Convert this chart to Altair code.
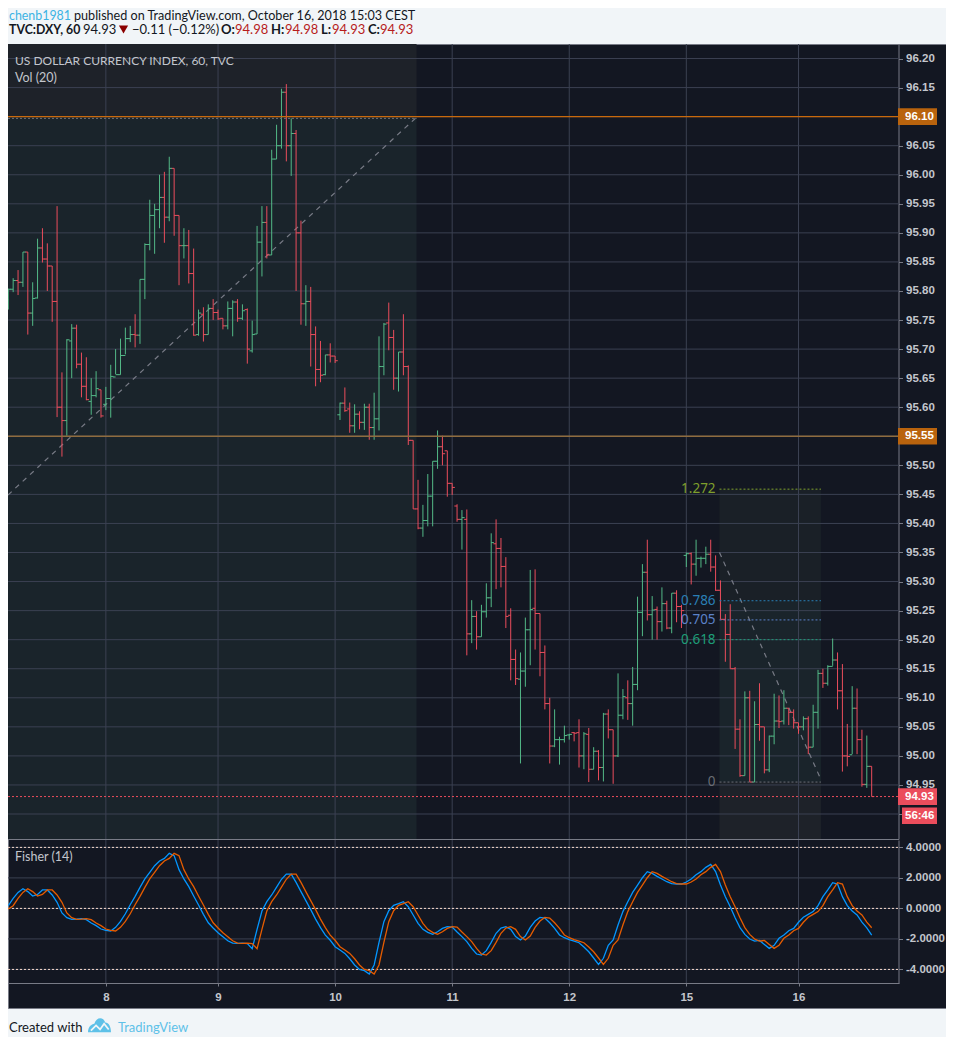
import altair as alt
import pandas as pd

open_ = [95.785,95.803,95.818,95.815,95.867,95.762,95.788,95.874,95.855,95.843,
95.782,95.60,95.577,95.714,95.736,95.674,95.636,95.61,95.62,95.63,
95.605,95.615,95.652,95.656,95.689,95.718,95.725,95.724,95.82,95.88,
95.93,95.94,95.961,95.927,96.011,95.93,95.878,95.878,95.83,95.725,
95.76,95.725,95.77,95.763,95.753,95.74,95.77,95.781,95.753,95.768,
95.697,95.726,95.884,95.918,95.862,96.027,96.05,96.142,96.05,96.071,
95.90,95.778,95.782,95.725,95.665,95.656,95.69,95.688,95.587,95.607,
95.597,95.568,95.588,95.574,95.60,95.565,95.58,95.67,95.745,95.72,
95.65,95.695,95.67,95.543,95.425,95.392,95.405,95.447,95.507,95.532,
95.525,95.469,95.43,95.407,95.407,95.21,95.24,95.205,95.248,95.272,
95.365,95.357,95.326,95.242,95.166,95.132,95.146,95.217,95.254,95.245,
95.178,95.09,95.017,95.028,95.028,95.036,95.04,95.04,95.0,95.037,
94.977,95.008,94.98,95.072,95.045,95.0,95.07,95.10,95.09,95.123,
95.247,95.316,95.243,95.252,95.231,95.262,95.22,95.28,95.257,95.345,
95.348,95.33,95.34,95.34,95.347,95.325,95.285,95.235,95.209,95.15,
95.046,94.966,95.10,94.955,95.054,95.05,94.976,95.034,95.06,95.06,
95.082,95.075,95.057,95.05,95.064,95.015,95.075,95.142,95.125,95.154,
95.165,95.112,95.0,95.002,95.082,95.028,94.951,94.982]
high = [95.804,95.822,95.836,95.867,95.867,95.815,95.89,95.908,95.882,95.843,
95.946,95.66,95.717,95.743,95.742,95.694,95.686,95.65,95.662,95.63,
95.635,95.673,95.70,95.718,95.737,95.74,95.76,95.82,95.882,95.957,
95.95,96.0,96.005,96.031,96.011,95.93,95.908,95.905,95.873,95.768,
95.772,95.777,95.786,95.768,95.753,95.782,95.784,95.786,95.777,95.77,
95.749,95.912,95.946,95.946,96.043,96.086,96.148,96.156,96.097,96.077,
95.921,95.81,95.807,95.739,95.714,95.69,95.71,95.688,95.608,95.634,
95.608,95.605,95.593,95.606,95.606,95.625,95.722,95.745,95.78,95.733,
95.695,95.76,95.672,95.543,95.475,95.432,95.485,95.507,95.56,95.551,
95.525,95.469,95.433,95.423,95.424,95.268,95.249,95.26,95.297,95.383,
95.407,95.375,95.342,95.254,95.183,95.178,95.238,95.32,95.321,95.245,
95.19,95.10,95.08,95.033,95.052,95.038,95.041,95.063,95.041,95.048,
95.015,95.01,95.074,95.08,95.045,95.142,95.115,95.13,95.153,95.274,
95.33,95.372,95.275,95.257,95.29,95.267,95.28,95.285,95.26,95.35,
95.35,95.372,95.343,95.36,95.372,95.345,95.302,95.244,95.261,95.153,
95.063,95.111,95.112,95.094,95.125,95.05,95.035,95.107,95.104,95.113,
95.082,95.08,95.057,95.068,95.068,95.088,95.148,95.15,95.156,95.202,
95.178,95.158,95.055,95.12,95.116,95.045,95.035,94.982]
low = [95.768,95.798,95.793,95.807,95.725,95.74,95.787,95.849,95.80,95.747,
95.583,95.515,95.551,95.65,95.667,95.617,95.612,95.587,95.617,95.582,
95.595,95.582,95.657,95.656,95.691,95.712,95.703,95.709,95.786,95.87,
95.864,95.908,95.883,95.92,95.895,95.81,95.856,95.813,95.723,95.723,
95.713,95.725,95.75,95.75,95.734,95.734,95.722,95.747,95.75,95.675,
95.694,95.726,95.825,95.856,95.862,96.027,96.045,96.023,95.998,95.80,
95.742,95.74,95.67,95.636,95.643,95.655,95.677,95.676,95.578,95.592,
95.556,95.556,95.562,95.561,95.544,95.544,95.56,95.655,95.698,95.63,
95.627,95.655,95.535,95.425,95.39,95.377,95.395,95.395,95.494,95.50,
95.446,95.449,95.403,95.355,95.173,95.194,95.183,95.205,95.238,95.256,
95.287,95.29,95.22,95.13,95.122,94.987,95.119,95.156,95.183,95.137,
95.08,94.987,95.015,94.985,95.023,95.028,95.025,94.98,94.977,94.955,
94.977,94.958,94.956,95.03,94.952,94.998,95.063,95.062,95.052,95.113,
95.206,95.233,95.20,95.20,95.214,95.218,95.211,95.23,95.22,95.325,
95.295,95.31,95.324,95.33,95.317,95.284,95.235,95.162,95.15,95.012,
94.964,94.966,94.955,94.955,95.026,94.97,94.972,95.02,95.048,95.054,
95.053,95.047,95.038,95.044,95.003,95.015,95.047,95.117,95.121,95.155,
95.08,94.973,94.982,95.003,95.003,94.947,94.945,94.93]
close = [95.803,95.818,95.815,95.867,95.762,95.787,95.874,95.855,95.843,95.782,
95.60,95.577,95.716,95.736,95.674,95.636,95.613,95.62,95.632,95.585,
95.615,95.653,95.656,95.689,95.718,95.725,95.724,95.82,95.88,95.93,
95.94,95.961,95.927,96.011,95.93,95.878,95.878,95.83,95.724,95.762,
95.725,95.77,95.763,95.752,95.74,95.77,95.781,95.753,95.766,95.70,
95.725,95.884,95.918,95.862,96.027,96.05,96.142,96.05,96.071,95.90,
95.778,95.782,95.725,95.665,95.655,95.69,95.688,95.68,95.607,95.594,
95.568,95.588,95.574,95.60,95.565,95.58,95.67,95.743,95.72,95.65,
95.695,95.67,95.543,95.425,95.392,95.405,95.447,95.507,95.532,95.52,
95.469,95.462,95.407,95.41,95.21,95.24,95.205,95.248,95.272,95.367,
95.357,95.326,95.24,95.166,95.133,95.146,95.217,95.252,95.245,95.178,
95.09,95.017,95.028,95.028,95.035,95.037,95.039,95.0,95.038,94.977,
95.008,94.98,95.072,95.045,95.0,95.07,95.102,95.09,95.123,95.247,
95.316,95.243,95.251,95.231,95.262,95.22,95.28,95.257,95.25,95.348,
95.33,95.34,95.34,95.347,95.325,95.285,95.235,95.209,95.15,95.046,
94.966,95.10,94.955,95.054,95.05,94.976,95.034,95.06,95.059,95.082,
95.075,95.057,95.05,95.064,95.015,95.075,95.142,95.125,95.154,95.165,
95.112,95.0,94.999,95.082,95.028,94.951,94.982,94.93]

fisher = [0.18,0.66,1.05,1.29,1.10,0.81,0.92,1.21,1.21,0.88,
0.40,-0.30,-0.61,-0.72,-0.70,-0.67,-0.74,-0.96,-1.13,-1.35,
-1.44,-1.48,-1.24,-0.85,-0.35,0.24,0.79,1.38,1.93,2.37,
2.80,3.11,3.28,3.61,3.46,2.54,1.93,1.43,0.81,0.22,
-0.39,-0.94,-1.28,-1.59,-1.85,-2.12,-2.27,-2.29,-2.27,-2.31,
-2.64,-1.37,-0.17,0.44,0.88,1.40,1.91,2.25,2.25,1.71,
1.10,0.51,-0.08,-0.70,-1.26,-1.75,-2.09,-2.51,-2.73,-2.95,
-3.30,-3.71,-4.00,-4.08,-4.30,-3.71,-2.23,-0.87,-0.15,0.20,
0.31,0.44,0.11,-0.43,-0.98,-1.37,-1.57,-1.70,-1.53,-1.31,
-1.20,-1.22,-1.55,-1.85,-2.18,-2.62,-2.99,-3.06,-2.77,-2.23,
-1.63,-1.29,-1.20,-1.37,-1.85,-2.07,-1.81,-1.24,-0.83,-0.59,
-0.63,-0.94,-1.31,-1.74,-1.92,-2.05,-2.14,-2.25,-2.53,-2.84,
-3.25,-3.67,-3.27,-2.42,-2.07,-1.09,-0.21,0.44,1.05,1.53,
2.01,2.41,2.30,2.10,1.93,1.75,1.62,1.60,1.60,1.73,
1.93,2.21,2.41,2.69,2.89,2.41,1.53,0.77,0.11,-0.61,
-1.26,-1.70,-2.01,-2.14,-2.10,-2.36,-2.62,-2.42,-1.96,-1.74,
-1.46,-1.31,-0.91,-0.58,-0.39,-0.21,0.18,0.77,1.21,1.69,
1.60,0.77,0.18,-0.17,-0.43,-0.90,-1.27,-1.75]
trigger = [-0.04,0.18,0.66,1.05,1.29,1.10,0.81,0.92,1.21,1.21,
0.88,0.40,-0.30,-0.61,-0.72,-0.70,-0.67,-0.74,-0.96,-1.13,
-1.35,-1.44,-1.48,-1.24,-0.85,-0.35,0.24,0.79,1.38,1.93,
2.37,2.80,3.11,3.28,3.61,3.46,2.54,1.93,1.43,0.81,
0.22,-0.39,-0.94,-1.28,-1.59,-1.85,-2.12,-2.27,-2.29,-2.27,
-2.31,-2.64,-1.37,-0.17,0.44,0.88,1.40,1.91,2.25,2.25,
1.71,1.10,0.51,-0.08,-0.70,-1.26,-1.75,-2.09,-2.51,-2.73,
-2.95,-3.30,-3.71,-4.00,-4.08,-4.30,-3.71,-2.23,-0.87,-0.15,
0.20,0.31,0.44,0.11,-0.43,-0.98,-1.37,-1.57,-1.70,-1.53,
-1.31,-1.20,-1.22,-1.55,-1.85,-2.18,-2.62,-2.99,-3.06,-2.77,
-2.23,-1.63,-1.29,-1.20,-1.37,-1.85,-2.07,-1.81,-1.24,-0.83,
-0.59,-0.63,-0.94,-1.31,-1.74,-1.92,-2.05,-2.14,-2.25,-2.53,
-2.84,-3.25,-3.67,-3.27,-2.42,-2.07,-1.09,-0.21,0.44,1.05,
1.53,2.01,2.41,2.30,2.10,1.93,1.75,1.62,1.60,1.60,
1.73,1.93,2.21,2.41,2.69,2.89,2.41,1.53,0.77,0.11,
-0.61,-1.26,-1.70,-2.01,-2.14,-2.10,-2.36,-2.62,-2.42,-1.96,
-1.74,-1.46,-1.31,-0.91,-0.58,-0.39,-0.21,0.18,0.77,1.21,
1.69,1.60,0.77,0.18,-0.17,-0.43,-0.90,-1.27]

day_bars = [20, 43, 67, 91, 115, 139, 162]
day_labels = ["8", "9", "10", "11", "12", "15", "16"]
price_ticks = [round(94.90 + 0.05 * k, 2) for k in range(27)]
fisher_ticks = [4, 2, 0, -2, -4]
fisher_bands = [4, 0, -4]

fib_levels = [1.272, 0.786, 0.705, 0.618, 0]
fib_prices = [95.459, 95.267, 95.234, 95.20, 94.955]
fib_colors = ["#7f9f2c", "#2a7fb5", "#5b82c9", "#1e9d78", "#6a6d75"]

GREEN, RED = "#53b987", "#eb4d5c"
BG, PAGE = "#131722", "#f1f5f8"
GRID = "#3b4152"
AXC = "#787b86"
LAB = "#c3c6cd"
TXT = "#131722"
FONT = "Lato"
AXF = 11.5

xs = alt.Scale(domain=[-0.06, 182.6], range=[0, 891], nice=False, zero=False)
ys = alt.Scale(domain=[94.857, 96.225], range=[795, 0], nice=False, zero=False)
fs = alt.Scale(domain=[-4.89, 4.485], range=[939, 796], nice=False, zero=False)


def X(f):
    return alt.X(f, type="quantitative", scale=xs, title=None)


def Y(f):
    return alt.Y(f, type="quantitative", scale=ys, title=None)


def F(f):
    return alt.Y(f, type="quantitative", scale=fs, title=None)


def band(x0, x1, top, bottom, color):
    d = pd.DataFrame({"x0": [x0], "x1": [x1], "t": [top], "b": [bottom]})
    return alt.Chart(d).mark_rect(color=color).encode(
        x=X("x0"), x2="x1", y=Y("t"), y2="b")


def hline(price, x0, x1, color, width=1.0, dash=None):
    d = pd.DataFrame({"x0": [x0], "x1": [x1], "p": [price]})
    kw = {"strokeDash": dash} if dash else {}
    return alt.Chart(d).mark_rule(color=color, strokeWidth=width, **kw).encode(
        x=X("x0"), x2="x1", y=Y("p"))


def label(text, px, py, color=TXT, size=13, weight="normal", font=FONT, align="left"):
    d = pd.DataFrame({"t": [text]})
    return alt.Chart(d).mark_text(
        align=align, baseline="alphabetic", color=color, fontSize=size,
        fontWeight=weight, font=font).encode(
        text="t:N", x=alt.value(px), y=alt.value(py))


# ---- bars table
n = len(close)
bars = pd.DataFrame({"i": list(range(n)), "o": open_, "h": high, "l": low, "c": close})
bars["dir"] = ["up" if c >= o else "down" for o, c in zip(open_, close)]
bars["il"] = bars["i"] - 0.55
bars["ir"] = bars["i"] + 0.55
dir_color = alt.Color("dir:N", scale=alt.Scale(domain=["up", "down"], range=[GREEN, RED]), legend=None)

# ---- price pane
shades = [
    band(-0.06, 83.7, 96.225, 96.10, "#1e2229"),
    band(-0.06, 83.7, 96.10, 94.857, "#1a242b"),
    band(145.8, 166.6, 95.459, 95.267, "#1a2027"),
    band(145.8, 166.6, 95.267, 94.955, "#1a242b"),
    band(145.8, 166.6, 94.955, 94.857, "#1e2229"),
]
grid_y = alt.Chart(pd.DataFrame({"p": price_ticks})).mark_rule(color=GRID, strokeWidth=1).encode(
    x=alt.value(0), x2=alt.value(891),
    y=alt.Y("p:Q", scale=ys, title=None, axis=alt.Axis(
        values=price_ticks, tickCount=60, orient="right", offset=-47.5, format=".2f", grid=False,
        domainColor=AXC, tickColor=AXC, tickSize=4, labelPadding=3,
        labelColor=LAB, labelFont="Liberation Sans", labelFontSize=AXF,
        labelFontWeight="bold", labelOverlap=False, labelBound=False)))

trend1 = alt.Chart(pd.DataFrame({"x": [-0.06, 83.7], "p": [95.449, 96.099]})).mark_line(
    color=AXC, strokeWidth=1.2, strokeDash=[5, 5]).encode(x=X("x"), y=Y("p"))
trend2 = alt.Chart(pd.DataFrame({"x": [145.8, 166.4], "p": [95.35, 94.963]})).mark_line(
    color=AXC, strokeWidth=1.2, strokeDash=[5, 5]).encode(x=X("x"), y=Y("p"))

hl = alt.Chart(bars).mark_rule(strokeWidth=1).encode(x=X("i"), y=Y("l"), y2="h", color=dir_color)
ot = alt.Chart(bars).mark_rule(strokeWidth=1).encode(x=X("il"), x2="i", y=Y("o"), color=dir_color)
ct = alt.Chart(bars).mark_rule(strokeWidth=1).encode(x=X("i"), x2="ir", y=Y("c"), color=dir_color)

fib_rules = [hline(p, 145.8, 166.6, c, dash=[2, 2]) for p, c in zip(fib_prices, fib_colors)]
fib_table = pd.DataFrame({"lvl": [str(v) for v in fib_levels], "p": fib_prices, "col": fib_colors, "x": [145.0] * 5})
fib_text = alt.Chart(fib_table).mark_text(
    align="right", baseline="middle", font="Noto Sans", fontSize=13.5).encode(
    x=X("x"), y=Y("p"), text="lvl:N",
    color=alt.Color("col:N", scale=None, legend=None))

levels = [
    hline(96.097, -0.06, 83.7, "#6c7079", dash=[2, 2]),
    hline(96.10, -0.06, 182.6, "#c9690c", width=1.1),
    hline(95.55, -0.06, 182.6, "#8f6c3f", width=1.5),
    hline(94.93, -0.06, 182.6, RED, dash=[2, 2]),
]

# price tags
tag_x0 = [890, 890, 890, 894]
tag_lab = ["96.10", "95.55", "94.93", "56:46"]
tag_p = [96.10, 95.55, 94.93, 94.897]
tag_col = ["#b9630d", "#b9630d", RED, RED]
tags = []
for x0, lab, p, col in zip(tag_x0, tag_lab, tag_p, tag_col):
    d = pd.DataFrame({"t": [p + 0.0143], "b": [p - 0.0143], "p": [p], "lab": [lab]})
    tags.append(alt.Chart(d).mark_rect(color=col).encode(
        x=alt.value(x0), x2=alt.value(929), y=Y("t"), y2="b"))
    tags.append(alt.Chart(d).mark_text(
        align="left", baseline="middle", color="#ffffff", font="Liberation Sans",
        fontSize=AXF, fontWeight="bold").encode(
        x=alt.value(897), y=Y("p"), text="lab:N"))

main = alt.layer(grid_y, trend1, trend2, hl, ot, ct,
                 *fib_rules, fib_text, *levels, *tags)
shade_layer = alt.layer(*shades)

# ---- fisher pane
grid_f = alt.Chart(pd.DataFrame({"v": fisher_ticks})).mark_rule(color=GRID, strokeWidth=1).encode(
    x=alt.value(0), x2=alt.value(891),
    y=alt.Y("v:Q", scale=fs, title=None, axis=alt.Axis(
        values=fisher_ticks, tickCount=60, orient="right", offset=-47.5, grid=False,
        labelExpr="replace(format(datum.value,'.4f'),'\u2212','-')",
        domainColor=AXC, tickColor=AXC, tickSize=4, labelPadding=3,
        labelColor=LAB, labelFont="Liberation Sans", labelFontSize=AXF,
        labelFontWeight="bold", labelOverlap=False, labelBound=False)))
bands_f = alt.Chart(pd.DataFrame({"v": fisher_bands})).mark_rule(
    color="#f7d9cb", strokeWidth=1, strokeDash=[2, 2]).encode(
    x=alt.value(0), x2=alt.value(891), y=F("v"))
fd = pd.DataFrame({"i": list(range(n)), "f": fisher, "g": trigger})
line_f = alt.Chart(fd).mark_line(color="#0496ff", strokeWidth=1.3).encode(x=X("i"), y=F("f"))
line_g = alt.Chart(fd).mark_line(color="#e65c00", strokeWidth=1.3).encode(x=X("i"), y=F("g"))
lower = alt.layer(grid_f, bands_f, line_f, line_g)

# ---- day grid + x axis + frames
day_map = ",".join(f"'{b}':'{l}'" for b, l in zip(day_bars, day_labels))
grid_x = alt.Chart(pd.DataFrame({"d": day_bars})).mark_rule(color=GRID, strokeWidth=1).encode(
    y=alt.value(0), y2=alt.value(939),
    x=alt.X("d:Q", scale=xs, title=None, axis=alt.Axis(
        values=day_bars, tickCount=60, orient="bottom", offset=-25, grid=False,
        labelExpr="{" + day_map + "}[datum.value]",
        domainColor=AXC, tickColor=AXC, tickSize=3, labelPadding=5,
        labelColor=LAB, labelFont="Liberation Sans", labelFontSize=AXF,
        labelFontWeight="bold", labelOverlap=False)))
sep = alt.Chart(pd.DataFrame({"k": [0]})).mark_rule(color=AXC, strokeWidth=1).encode(
    x=alt.value(0), x2=alt.value(891), y=alt.value(795.5))

# ---- text
texts = [
    label("chenb1981", 1, -24.5, color="#3bb3e4", size=12.4),
    label("published on TradingView.com, October 16, 2018 15:03 CEST", 66, -24.5, size=12.6),
    label("TVC:DXY, 60", 1, -10.5, weight="bold", size=12.3),
    label("94.93", 75, -10.5),
    label("\u22120.11 (\u22120.12%)", 124, -10.5),
    label("O:", 213, -10.5, weight="bold"),
    label("94.98", 227, -10.5, color="#b71c1c"),
    label("H:", 263, -10.5, weight="bold"),
    label("94.98", 277, -10.5, color="#b71c1c"),
    label("L:", 313, -10.5, weight="bold"),
    label("94.93", 324, -10.5, color="#b71c1c"),
    label("C:", 360, -10.5, weight="bold"),
    label("94.93", 372, -10.5, color="#b71c1c"),
    label("US DOLLAR CURRENCY INDEX, 60, TVC", 7, 21, color="#c3c6cd", size=12),
    label("Vol (20)", 7, 37.5, color="#c3c6cd", size=12.5),
    label("Fisher (14)", 7, 817, color="#c3c6cd", size=12.5),
    label("Created with", 1, 988),
    label("TradingView", 110, 988, color="#5ec1e8"),
]
tri = alt.Chart(pd.DataFrame({"k": [0]})).mark_point(
    shape="triangle-down", filled=True, color="#8b0000", size=85, opacity=1).encode(
    x=alt.value(115.5), y=alt.value(-14.5))
logo = alt.Chart(pd.DataFrame({"k": [0]})).mark_point(
    shape="M-1,0.55 C-1,0.05 -0.7,-0.15 -0.45,-0.2 C-0.3,-0.8 0.35,-0.85 0.5,-0.3 C0.8,-0.3 1,0.05 1,0.55 Z",
    filled=True, color="#5ec1e8", size=529, opacity=1).encode(
    x=alt.value(91.5), y=alt.value(982))
logo2 = alt.Chart(pd.DataFrame({"k": [0]})).mark_point(
    shape="M-0.75,0.4 L-0.3,-0.05 L0.05,0.3 L0.4,-0.2 L0.8,0.3",
    filled=False, color="#f1f5f8", strokeWidth=1.8, size=529, opacity=1).encode(
    x=alt.value(91.5), y=alt.value(982))

chart = alt.layer(
    alt.layer(shade_layer, grid_x, main, sep),
    lower,
    *texts, tri, logo, logo2,
).resolve_scale(y="independent").properties(
    width=938, height=964,
    padding={"left": 0, "top": 36, "right": 0, "bottom": 29},
    autosize=alt.AutoSizeParams(type="none"),
    background=PAGE,
).configure_view(fill=BG, stroke=AXC, strokeWidth=1)

chart.save("out.html", embed_options={"renderer": "svg", "actions": False})
